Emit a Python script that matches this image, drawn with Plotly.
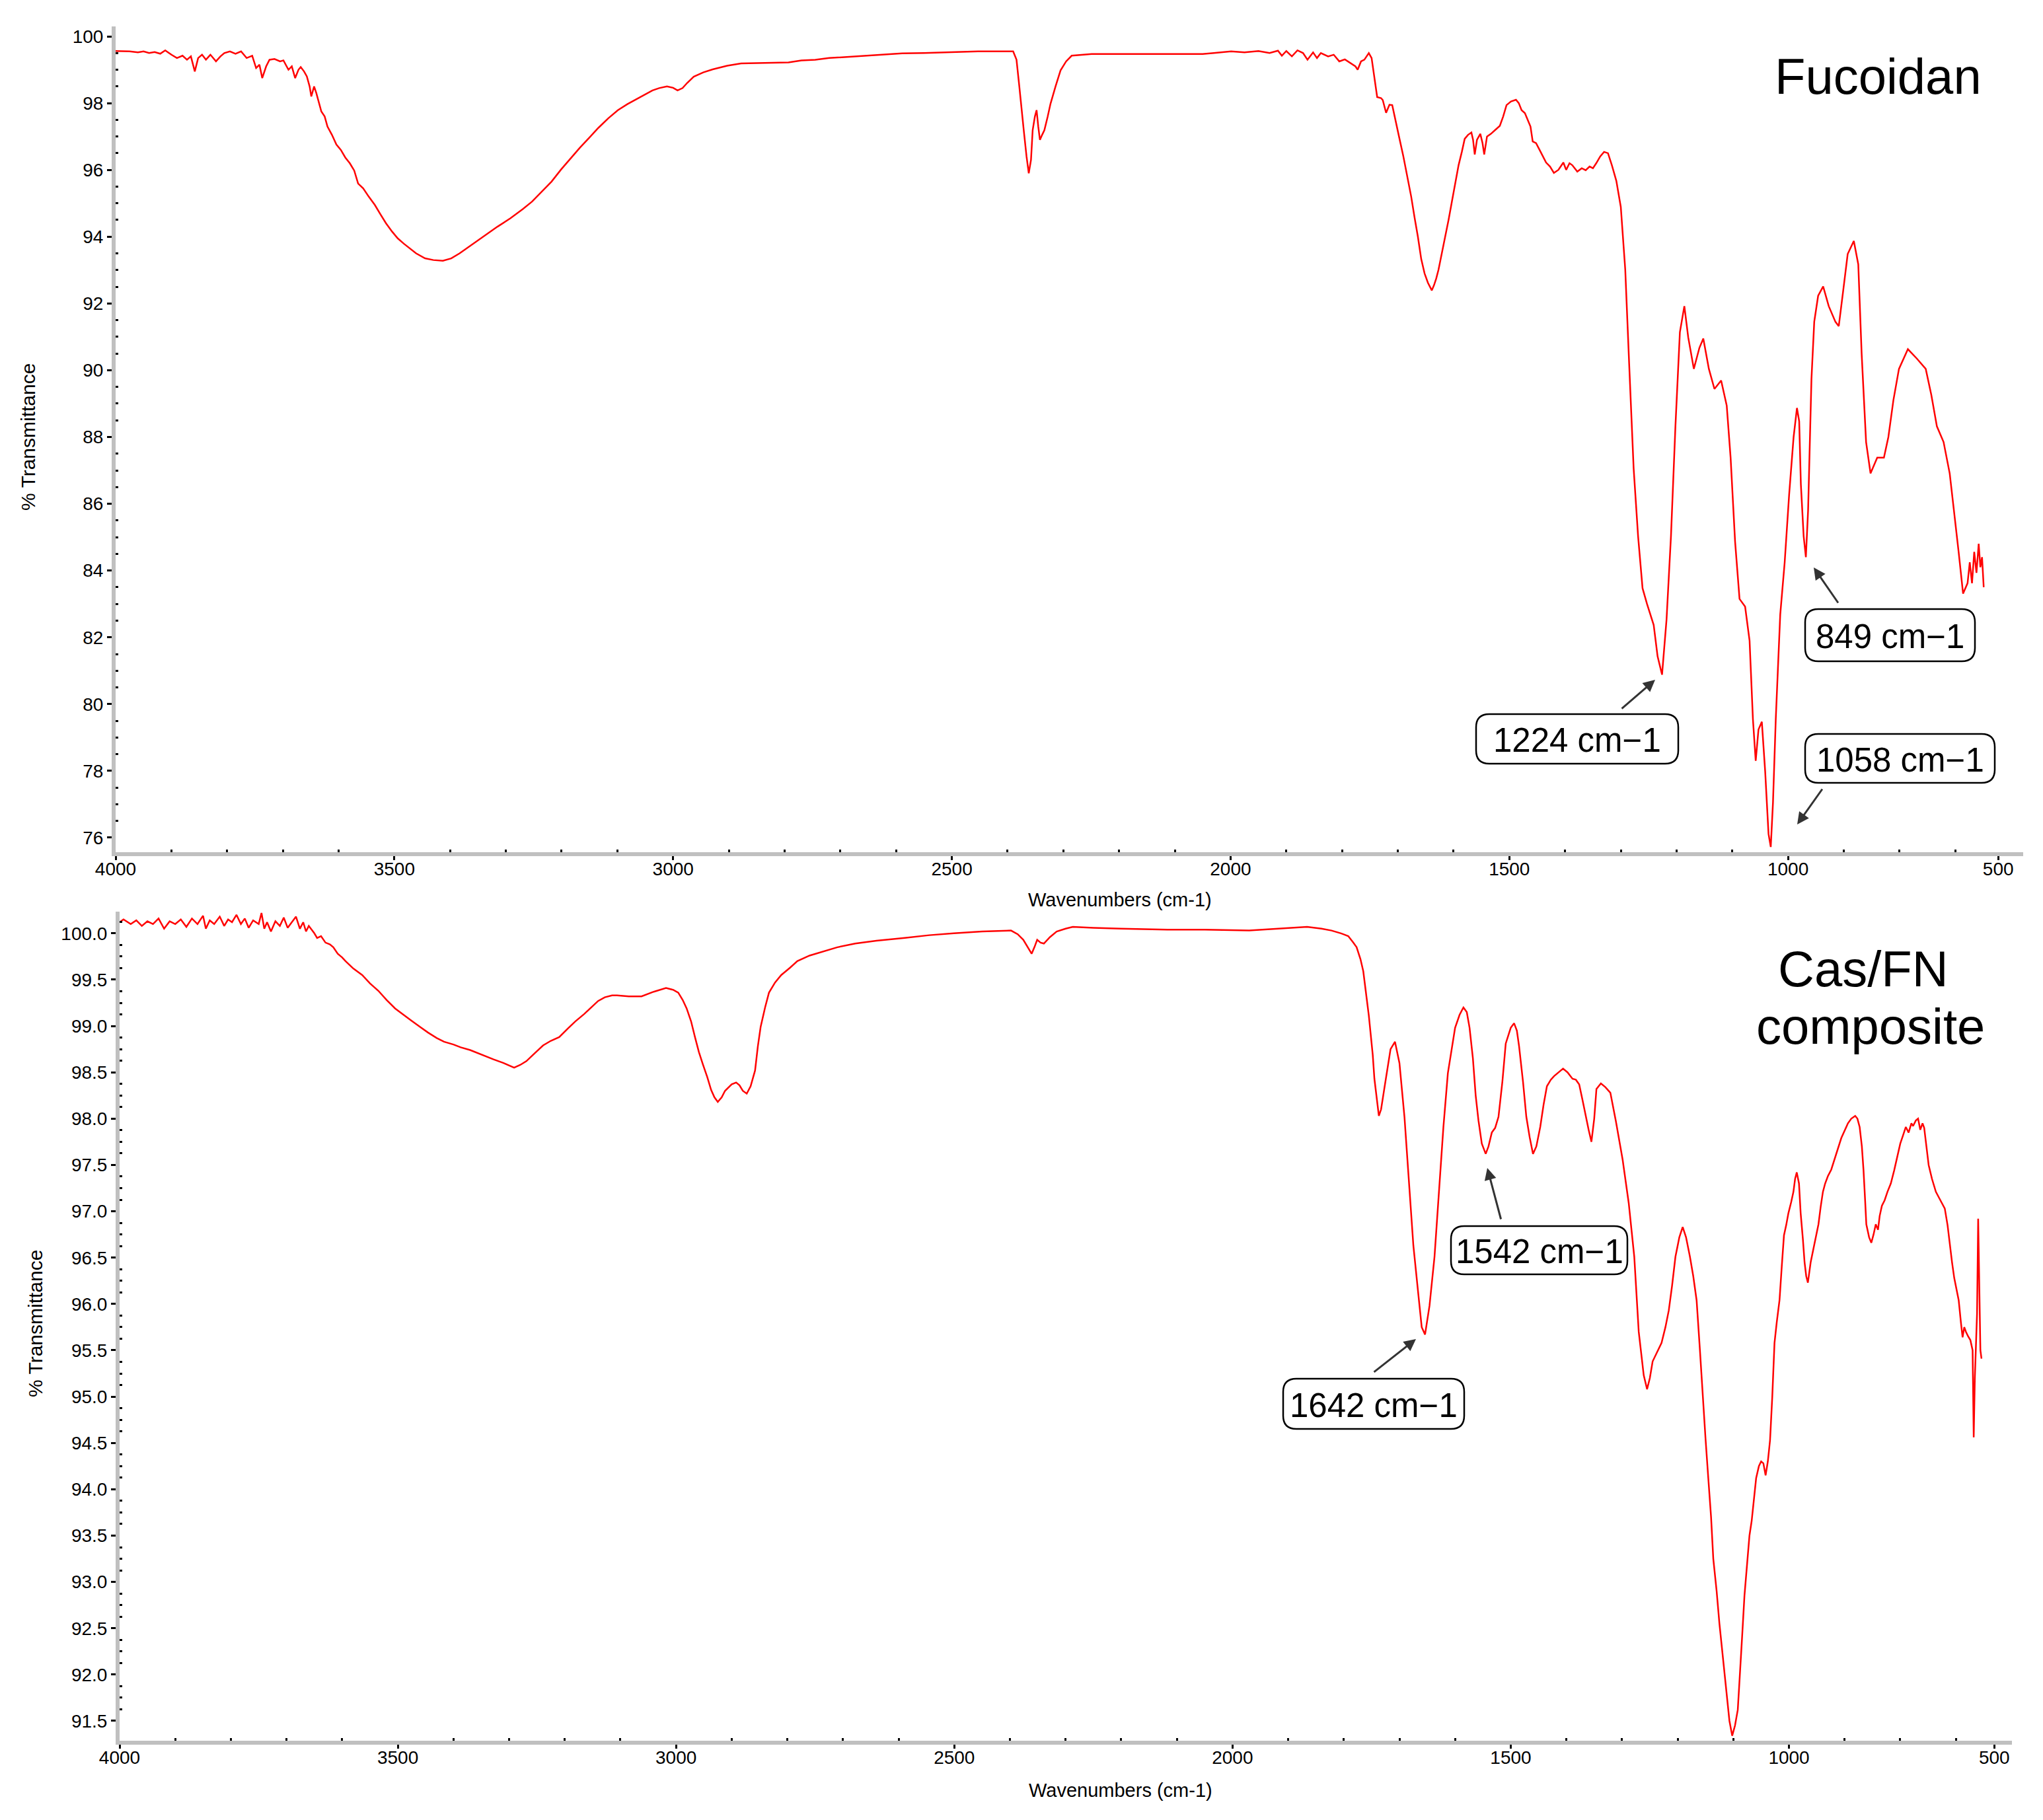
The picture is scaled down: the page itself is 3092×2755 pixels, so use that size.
import plotly.graph_objects as go

W, H = 3092, 2755          # target picture size
OFF = 8                    # default page margin of the html body
FW, FH = W - OFF, H - OFF  # figure size so that it ends exactly at the window edge

# ---------------- data ----------------
fuc_wn = [4000, 3990, 3975, 3960, 3950, 3940, 3930, 3920, 3911, 3900, 3890, 3880, 3872, 3865, 3858, 3852,
          3845, 3838, 3830, 3820, 3812, 3805, 3795, 3785, 3775, 3765, 3755, 3748, 3742, 3737, 3730, 3724,
          3715, 3705, 3699, 3690, 3684, 3678, 3672, 3668, 3662, 3657, 3652, 3649, 3644, 3640, 3631, 3625,
          3620, 3612, 3604, 3596, 3588, 3580, 3572, 3565, 3556, 3546, 3535, 3525, 3515, 3504, 3494, 3483,
          3472, 3461, 3445, 3430, 3413, 3398, 3383, 3366, 3349, 3332, 3315, 3292, 3270, 3253, 3236, 3218,
          3201, 3184, 3167, 3150, 3134, 3116, 3099, 3082, 3065, 3050, 3037, 3025, 3011, 3000, 2992, 2983,
          2975, 2963, 2946, 2929, 2903, 2878, 2835, 2793, 2770, 2745, 2720, 2702, 2660, 2620, 2589, 2550,
          2510, 2453, 2390, 2384, 2379, 2375, 2371, 2366, 2362, 2358, 2355, 2351, 2348, 2345, 2342, 2338,
          2334, 2328, 2323, 2314, 2305, 2295, 2285, 2249, 2150, 2050, 2030, 1999, 1975, 1950, 1930, 1915,
          1908, 1900, 1890, 1880, 1870, 1862, 1852, 1845, 1838, 1825, 1815, 1805, 1795, 1785, 1776, 1772,
          1766, 1760, 1752, 1747, 1742, 1737, 1730, 1727, 1721, 1715, 1710, 1704, 1698, 1690, 1682, 1676,
          1670, 1664, 1658, 1652, 1646, 1642, 1639, 1635, 1631, 1627, 1621, 1615, 1609, 1603, 1597, 1591,
          1585, 1580, 1574, 1568, 1565, 1562, 1558, 1552, 1548, 1545, 1540, 1533, 1525, 1517, 1511, 1505,
          1497, 1488, 1483, 1478, 1472, 1466, 1462, 1458, 1452, 1446, 1440, 1434, 1427, 1420, 1412, 1403,
          1398, 1392, 1387, 1378, 1370, 1363, 1356, 1350, 1344, 1337, 1330, 1323, 1316, 1308, 1300, 1292,
          1285, 1277, 1269, 1261, 1253, 1241, 1234, 1226, 1218, 1210, 1202, 1194, 1186, 1179, 1169, 1159,
          1152, 1142, 1132, 1120, 1110, 1103, 1095, 1087, 1077, 1069, 1063, 1058, 1053, 1047, 1041, 1035,
          1031, 1027, 1022, 1014, 1006, 998, 990, 984, 980, 977, 972, 968, 964, 958, 953, 946,
          937, 927, 915, 909, 901, 893, 882, 874, 868, 864, 860, 852, 840, 828, 820, 811,
          801, 785, 769, 753, 743, 733, 721, 710, 700, 694, 686, 678, 674, 670, 666, 662,
          658, 655, 652, 649]
fuc_t = [99.56, 99.56, 99.55, 99.52, 99.55, 99.50, 99.53, 99.48, 99.58, 99.45, 99.35, 99.42, 99.30, 99.40, 98.95, 99.35,
         99.45, 99.30, 99.45, 99.25, 99.40, 99.50, 99.55, 99.48, 99.55, 99.35, 99.42, 99.05, 99.15, 98.75, 99.10, 99.30,
         99.32, 99.25, 99.28, 99.00, 99.10, 98.75, 99.00, 99.08, 98.95, 98.80, 98.50, 98.20, 98.50, 98.30, 97.75, 97.60,
         97.30, 97.05, 96.76, 96.60, 96.37, 96.20, 95.98, 95.59, 95.45, 95.20, 94.95, 94.67, 94.40, 94.15, 93.95, 93.79,
         93.65, 93.50, 93.35, 93.30, 93.28, 93.35, 93.50, 93.70, 93.90, 94.10, 94.30, 94.55, 94.82, 95.05, 95.35, 95.65,
         96.01, 96.35, 96.67, 96.97, 97.26, 97.55, 97.79, 97.97, 98.12, 98.25, 98.38, 98.45, 98.50, 98.46, 98.38, 98.45,
         98.60, 98.79, 98.92, 99.01, 99.12, 99.19, 99.20, 99.22, 99.28, 99.30, 99.35, 99.37, 99.42, 99.45, 99.49, 99.50,
         99.52, 99.55, 99.55, 99.30, 98.51, 97.80, 97.19, 96.40, 95.90, 96.30, 97.19, 97.60, 97.79, 97.30, 96.90, 97.05,
         97.19, 97.60, 97.98, 98.50, 98.98, 99.25, 99.42, 99.47, 99.47, 99.47, 99.50, 99.55, 99.52, 99.56, 99.50, 99.57,
         99.42, 99.56, 99.40, 99.58, 99.50, 99.30, 99.52, 99.35, 99.50, 99.40, 99.45, 99.25, 99.31, 99.20, 99.10, 99.00,
         99.25, 99.30, 99.50, 99.35, 98.80, 98.18, 98.15, 98.09, 97.71, 97.95, 97.94, 97.50, 97.01, 96.40, 95.75, 95.20,
         94.58, 94.00, 93.33, 92.90, 92.62, 92.50, 92.39, 92.55, 92.75, 93.01, 93.50, 93.95, 94.50, 95.05, 95.60, 96.14,
         96.55, 96.93, 97.05, 97.12, 96.90, 96.46, 96.90, 97.08, 96.80, 96.46, 97.00, 97.08, 97.20, 97.32, 97.60, 97.94,
         98.05, 98.10, 98.00, 97.79, 97.70, 97.47, 97.30, 96.85, 96.80, 96.61, 96.40, 96.22, 96.10, 95.91, 96.00, 96.22,
         96.00, 96.20, 96.14, 95.95, 96.05, 95.99, 96.10, 96.05, 96.20, 96.40, 96.54, 96.50, 96.14, 95.67, 94.89, 93.01,
         90.19, 87.07, 85.03, 83.47, 83.00, 82.37, 81.43, 80.88, 82.52, 85.03, 88.32, 91.14, 91.92, 90.98, 90.04, 90.67,
         90.95, 90.04, 89.44, 89.69, 88.94, 87.38, 84.87, 83.15, 82.92, 81.90, 79.55, 78.30, 79.24, 79.47, 77.98, 76.11,
         75.72, 77.05, 79.55, 82.68, 84.25, 86.28, 88.00, 88.87, 88.47, 86.59, 85.03, 84.40, 85.81, 89.73, 91.45, 92.23,
         92.51, 91.92, 91.45, 91.32, 92.39, 93.48, 93.87, 93.17, 90.51, 89.26, 87.85, 86.91, 87.38, 87.38, 88.00, 89.10,
         90.04, 90.63, 90.35, 90.04, 89.26, 88.32, 87.85, 86.91, 85.50, 84.56, 83.31, 83.62, 84.25, 83.62, 84.56, 83.93,
         84.80, 84.10, 84.40, 83.50]

cas_wn = [4000, 3993, 3980, 3970, 3960, 3950, 3940, 3930, 3920, 3910, 3900, 3890, 3880, 3870, 3860, 3850,
          3845, 3838, 3830, 3820, 3812, 3805, 3798, 3790, 3782, 3775, 3768, 3760, 3750, 3745, 3740, 3735,
          3728, 3720, 3712, 3705, 3698, 3690, 3683, 3676, 3670, 3665, 3660, 3650, 3645, 3638, 3630, 3622,
          3616, 3608, 3600, 3594, 3580, 3564, 3550, 3535, 3520, 3505, 3490, 3476, 3460, 3446, 3430, 3417,
          3400, 3387, 3370, 3358, 3340, 3328, 3310, 3291, 3280, 3269, 3255, 3239, 3225, 3210, 3195, 3181,
          3165, 3151, 3140, 3128, 3115, 3106, 3085, 3062, 3040, 3018, 3005, 2996, 2988, 2981, 2973, 2966,
          2959, 2952, 2944, 2937, 2931, 2925, 2918, 2912, 2907, 2900, 2892, 2886, 2880, 2873, 2866, 2858,
          2853, 2848, 2840, 2833, 2822, 2811, 2795, 2782, 2760, 2737, 2710, 2678, 2640, 2589, 2545, 2501,
          2450, 2398, 2386, 2376, 2368, 2361, 2356, 2351, 2345, 2339, 2328, 2316, 2300, 2287, 2250, 2200,
          2117, 2050, 1970, 1920, 1890, 1866, 1840, 1822, 1805, 1792, 1783, 1777, 1770, 1765, 1760, 1755,
          1748, 1745, 1737, 1733, 1726, 1716, 1708, 1700, 1691, 1683, 1675, 1666, 1660, 1654, 1646, 1637,
          1629, 1621, 1613, 1600, 1592, 1585, 1579, 1574, 1568, 1563, 1558, 1552, 1545, 1540, 1534, 1528,
          1522, 1515, 1509, 1500, 1494, 1489, 1485, 1478, 1472, 1466, 1460, 1454, 1447, 1441, 1435, 1428,
          1422, 1414, 1406, 1398, 1389, 1383, 1377, 1371, 1365, 1360, 1355, 1350, 1346, 1338, 1330, 1321,
          1311, 1299, 1288, 1278, 1270, 1261, 1255, 1250, 1245, 1237, 1229, 1222, 1216, 1210, 1204, 1197,
          1191, 1185, 1178, 1172, 1166, 1160, 1155, 1150, 1145, 1140, 1136, 1130, 1125, 1118, 1112, 1107,
          1102, 1097, 1092, 1088, 1084, 1080, 1075, 1071, 1067, 1063, 1059, 1054, 1050, 1046, 1042, 1038,
          1034, 1030, 1026, 1022, 1017, 1013, 1009, 1005, 1001, 996, 992, 989, 986, 982, 979, 975,
          972, 969, 966, 961, 955, 951, 947, 943, 939, 935, 930, 924, 918, 912, 906, 900,
          894, 888, 881, 877, 873, 869, 866, 863, 861, 856, 852, 848, 844, 840, 837, 833,
          828, 823, 817, 811, 805, 800, 795, 790, 785, 780, 777, 772, 768, 764, 760, 757,
          753, 749, 743, 736, 728, 720, 715, 711, 707, 703, 699, 695, 691, 688, 685, 682,
          678, 674, 670, 668, 666, 664, 662, 660, 658, 656, 654]
cas_t = [100.12, 100.15, 100.10, 100.14, 100.08, 100.13, 100.10, 100.16, 100.05, 100.13, 100.10, 100.15, 100.07, 100.16, 100.10, 100.19,
         100.05, 100.14, 100.10, 100.18, 100.08, 100.15, 100.12, 100.20, 100.10, 100.16, 100.06, 100.14, 100.10, 100.22, 100.05, 100.12,
         100.02, 100.13, 100.08, 100.17, 100.06, 100.12, 100.18, 100.05, 100.12, 100.02, 100.08, 100.00, 99.95, 99.97, 99.90, 99.88,
         99.85, 99.78, 99.74, 99.70, 99.62, 99.55, 99.46, 99.38, 99.28, 99.19, 99.12, 99.06, 98.99, 98.93, 98.87, 98.83,
         98.80, 98.77, 98.74, 98.71, 98.67, 98.64, 98.60, 98.55, 98.58, 98.62, 98.70, 98.79, 98.84, 98.88, 98.97, 99.05,
         99.13, 99.21, 99.27, 99.31, 99.33, 99.33, 99.32, 99.32, 99.37, 99.41, 99.39, 99.36, 99.28, 99.19, 99.05, 98.88,
         98.72, 98.59, 98.45, 98.31, 98.23, 98.18, 98.23, 98.30, 98.33, 98.37, 98.39, 98.36, 98.30, 98.27, 98.35, 98.52,
         98.78, 98.99, 99.20, 99.36, 99.47, 99.55, 99.63, 99.70, 99.76, 99.80, 99.85, 99.89, 99.92, 99.95, 99.98, 100.00,
         100.02, 100.03, 99.99, 99.93, 99.85, 99.78, 99.85, 99.93, 99.90, 99.89, 99.96, 100.02, 100.05, 100.07, 100.06, 100.05,
         100.04, 100.04, 100.03, 100.05, 100.06, 100.07, 100.05, 100.03, 100.00, 99.97, 99.90, 99.85, 99.72, 99.59, 99.35, 99.11,
         98.69, 98.43, 98.03, 98.10, 98.37, 98.75, 98.83, 98.60, 98.02, 97.32, 96.63, 96.10, 95.75, 95.67, 95.98, 96.51,
         97.21, 97.91, 98.49, 98.98, 99.12, 99.20, 99.15, 98.98, 98.65, 98.25, 97.98, 97.73, 97.62, 97.70, 97.85, 97.90,
         98.02, 98.40, 98.81, 98.98, 99.03, 98.95, 98.78, 98.40, 98.02, 97.80, 97.62, 97.70, 97.91, 98.15, 98.35, 98.42,
         98.46, 98.50, 98.54, 98.50, 98.43, 98.42, 98.37, 98.20, 98.02, 97.88, 97.75, 98.00, 98.32, 98.38, 98.34, 98.28,
         97.97, 97.56, 97.09, 96.51, 95.70, 95.23, 95.08, 95.20, 95.38, 95.48, 95.58, 95.75, 95.93, 96.20, 96.51, 96.72,
         96.83, 96.72, 96.51, 96.30, 96.04, 95.50, 95.00, 94.55, 94.12, 93.70, 93.25, 92.90, 92.55, 92.15, 91.79, 91.50,
         91.34, 91.45, 91.62, 92.00, 92.43, 92.85, 93.25, 93.50, 93.66, 93.90, 94.12, 94.25, 94.30, 94.28, 94.15, 94.30,
         94.53, 95.00, 95.58, 95.80, 96.04, 96.40, 96.74, 96.85, 96.98, 97.10, 97.21, 97.35, 97.42, 97.30, 96.98, 96.70,
         96.45, 96.30, 96.23, 96.45, 96.63, 96.75, 96.86, 97.05, 97.21, 97.30, 97.38, 97.45, 97.56, 97.68, 97.79, 97.87,
         97.95, 98.00, 98.03, 98.00, 97.91, 97.70, 97.44, 97.10, 96.86, 96.72, 96.66, 96.75, 96.86, 96.80, 96.95, 97.06,
         97.12, 97.21, 97.30, 97.44, 97.60, 97.73, 97.82, 97.91, 97.85, 97.95, 97.92, 97.98, 98.00, 97.88, 97.95, 97.90,
         97.70, 97.50, 97.35, 97.21, 97.12, 97.03, 96.85, 96.63, 96.45, 96.28, 96.15, 96.04, 95.80, 95.64, 95.75, 95.70,
         95.65, 95.61, 95.50, 94.56, 95.20, 95.60, 95.90, 96.92, 96.20, 95.50, 95.41]

x_tick_text = ["4000", "3500", "3000", "2500", "2000", "1500", "1000", "500"]
top_x_tickvals = [4000, 3500, 3000, 2500, 2000, 1500, 1000, 623]
bot_x_tickvals = [4000, 3500, 3000, 2500, 2000, 1500, 1000, 631]
x_minor_vals = [v for v in range(3900, 600, -100) if v % 500 != 0]
top_y_tickvals = [100, 98, 96, 94, 92, 90, 88, 86, 84, 82, 80, 78, 76]
top_y_minor = [76 + 0.5 * i for i in range(49) if (i % 4) != 0]
bot_y_tickvals = [100.0, 99.5, 99.0, 98.5, 98.0, 97.5, 97.0, 96.5, 96.0, 95.5, 95.0, 94.5, 94.0,
                  93.5, 93.0, 92.5, 92.0, 91.5]
bot_y_minor = [91.5 + 0.125 * i for i in range(70) if (i % 4) != 0]

panel_names = ["Fucoidan", "Cas/FN", "composite"]
peak_labels = ["849 cm\u22121", "1224 cm\u22121", "1058 cm\u22121", "1542 cm\u22121", "1642 cm\u22121"]


# ---------------- helpers (window pixel -> paper) ----------------
def X(p):
    return (p - OFF) / FW


def Y(p):
    return 1 - (p - OFF) / FH


TICKFONT = dict(family="Liberation Sans Narrow, Arial Narrow, Liberation Sans, Arial", size=28, color="#000000")
TEXTFONT = "Liberation Sans, Arial, sans-serif"
AXCOL = "#c0c0c0"

fig = go.Figure()
fig.add_trace(go.Scatter(x=fuc_wn, y=fuc_t, mode="lines", xaxis="x", yaxis="y",
                         line=dict(color="#ff0000", width=2.5), showlegend=False))
fig.add_trace(go.Scatter(x=cas_wn, y=cas_t, mode="lines", xaxis="x2", yaxis="y2",
                         line=dict(color="#ff0000", width=2.5), showlegend=False))


def xaxis_cfg(domain, rng, tickvals, anchor):
    return dict(domain=domain, range=rng, anchor=anchor, automargin=False, showline=True,
                linecolor=AXCOL, linewidth=6,
                showgrid=False, zeroline=False, tickmode="array", tickvals=tickvals, ticktext=x_tick_text,
                ticks="outside", ticklen=6, tickwidth=3, tickcolor="#000000", tickfont=TICKFONT,
                ticklabelstandoff=-11,
                minor=dict(tickmode="array", tickvals=x_minor_vals, ticks="inside", ticklen=4,
                           tickwidth=3, tickcolor="#000000", showgrid=False))


def yaxis_cfg(domain, rng, tickvals, ticktext, minor_vals, anchor):
    return dict(domain=domain, range=rng, anchor=anchor, automargin=False, showline=True,
                linecolor=AXCOL, linewidth=6,
                showgrid=False, zeroline=False, tickmode="array", tickvals=tickvals, ticktext=ticktext,
                ticks="outside", ticklen=7, tickwidth=3, tickcolor="#000000", tickfont=TICKFONT,
                minor=dict(tickmode="array", tickvals=minor_vals, ticks="inside", ticklen=4,
                           tickwidth=3, tickcolor="#000000", showgrid=False))


fig.update_layout(
    template="none",
    width=FW, height=FH,
    margin=dict(l=0, r=0, t=0, b=0, pad=0, autoexpand=False),
    paper_bgcolor="white", plot_bgcolor="white",
    showlegend=False,
    xaxis=xaxis_cfg([X(175), X(3062)], [4000, 578.2], top_x_tickvals, "y"),
    yaxis=yaxis_cfg([Y(1290), Y(40)], [75.564, 100.297], top_y_tickvals,
                    [str(v) for v in top_y_tickvals], top_y_minor, "x"),
    xaxis2=xaxis_cfg([X(181), X(3045)], [4000, 599.3], bot_x_tickvals, "y2"),
    yaxis2=yaxis_cfg([Y(2635), Y(1380)], [91.286, 100.234], bot_y_tickvals,
                     ["%.1f" % v for v in bot_y_tickvals], bot_y_minor, "x2"),
)

annotations = []
# axis titles
for cx, cy in [(1695, 1362), (1696, 2710)]:
    annotations.append(dict(x=X(cx), y=Y(cy), xref="paper", yref="paper", text="Wavenumbers (cm-1)",
                            showarrow=False, xanchor="center", yanchor="middle",
                            font=dict(family=TEXTFONT, size=29, color="#000000")))
for cx, cy in [(42, 662), (53, 2004)]:
    annotations.append(dict(x=X(cx), y=Y(cy), xref="paper", yref="paper", text="% Transmittance",
                            showarrow=False, xanchor="center", yanchor="middle", textangle=-90,
                            font=dict(family=TEXTFONT, size=30, color="#000000")))

# panel names
for name, cx, cy in zip(panel_names, [2842, 2820, 2831], [116, 1466, 1553]):
    annotations.append(dict(x=X(cx), y=Y(cy), xref="paper", yref="paper", text=name,
                            showarrow=False, xanchor="center", yanchor="middle",
                            font=dict(family=TEXTFONT, size=76, color="#000000")))

# peak label boxes (x0, y0, x1, y1 in window pixels)
boxes = [(2732, 922, 2989, 1001), (2234, 1081, 2540, 1156), (2732, 1111, 3019, 1185),
         (2196, 1856, 2463, 1929), (1942, 2087, 2216, 2163)]
shapes = []
for (x0, y0, x1, y1), lab in zip(boxes, peak_labels):
    r = 20
    path = (f"M {X(x0 + r)},{Y(y0)} L {X(x1 - r)},{Y(y0)} Q {X(x1)},{Y(y0)} {X(x1)},{Y(y0 + r)} "
            f"L {X(x1)},{Y(y1 - r)} Q {X(x1)},{Y(y1)} {X(x1 - r)},{Y(y1)} "
            f"L {X(x0 + r)},{Y(y1)} Q {X(x0)},{Y(y1)} {X(x0)},{Y(y1 - r)} "
            f"L {X(x0)},{Y(y0 + r)} Q {X(x0)},{Y(y0)} {X(x0 + r)},{Y(y0)} Z")
    shapes.append(dict(type="path", path=path, xref="paper", yref="paper",
                       line=dict(color="#000000", width=2.5), fillcolor="white", layer="above"))
    annotations.append(dict(x=X((x0 + x1) / 2), y=Y((y0 + y1) / 2 + 2), xref="paper", yref="paper",
                            text=lab, showarrow=False, xanchor="center", yanchor="middle",
                            font=dict(family=TEXTFONT, size=51, color="#000000")))

# arrows: (head_x, head_y, tail_x, tail_y) in window pixels
arrows = [(2745, 859, 2783, 914), (2505, 1029, 2453, 1074), (2720, 1248, 2759, 1193),
          (2251, 1768, 2272, 1847), (2143, 2027, 2078, 2078)]
for hx, hy, tx, ty in arrows:
    annotations.append(dict(x=X(hx), y=Y(hy), xref="paper", yref="paper", text="",
                            showarrow=True, ax=tx - hx, ay=ty - hy, axref="pixel", ayref="pixel",
                            arrowhead=2, arrowsize=1.2, arrowwidth=3, arrowcolor="#333333",
                            standoff=0, startstandoff=0))

fig.update_layout(annotations=annotations, shapes=shapes)
fig.write_html("out.html")
